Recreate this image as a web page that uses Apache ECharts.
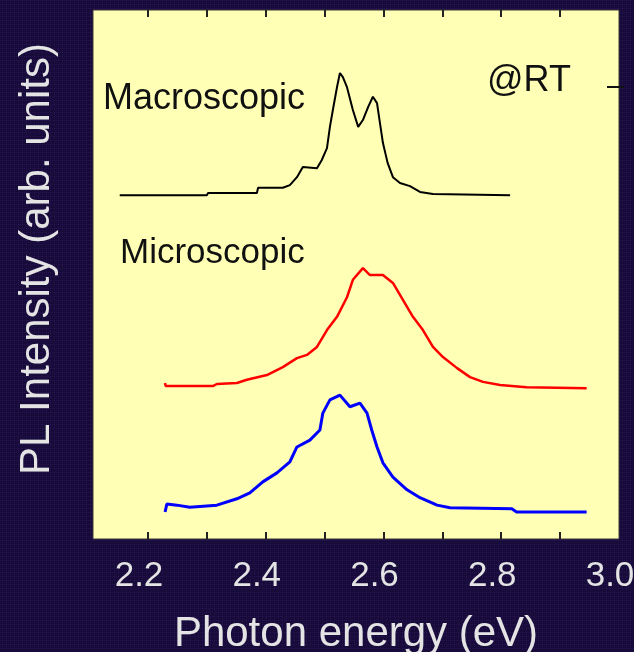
<!DOCTYPE html>
<html>
<head>
<meta charset="utf-8">
<script src="https://cdn.jsdelivr.net/npm/echarts@6/dist/echarts.min.js"></script>
<style>
  html, body { margin: 0; padding: 0; background: #170b3a; }
  #pl_show { width: 634px; height: 652px; }
</style>
</head>
<body>
<div id="pl_show"></div>
<script>
// 横轴刻度 (eV)
var tickValues = [2.2, 2.3, 2.4, 2.5, 2.6, 2.7, 2.8, 2.9];
var labelValues = [2.2, 2.4, 2.6, 2.8, 3.0];

// Macroscopic 黑线
var macroE = [2.152, 2.300, 2.302, 2.385, 2.387, 2.429, 2.441, 2.453, 2.463, 2.487, 2.495, 2.504, 2.509, 2.514, 2.521, 2.526,
    2.531, 2.538, 2.548, 2.557, 2.565, 2.574, 2.582, 2.589, 2.594, 2.599, 2.607, 2.616, 2.628, 2.645, 2.662, 2.684, 2.815];
var macroI = [6.50, 6.50, 6.54, 6.54, 6.64, 6.64, 6.69, 6.84, 7.03, 7.01, 7.16, 7.39, 7.79, 8.11, 8.54, 8.81,
    8.73, 8.54, 8.11, 7.79, 7.92, 8.17, 8.36, 8.24, 7.86, 7.49, 7.11, 6.84, 6.73, 6.67, 6.56, 6.52, 6.50];

// Microscopic 红线
var redE = [2.229, 2.230, 2.310, 2.317, 2.351, 2.368, 2.402, 2.429, 2.453, 2.470, 2.487, 2.504, 2.521, 2.538, 2.548, 2.565,
    2.577, 2.599, 2.616, 2.633, 2.650, 2.667, 2.684, 2.701, 2.725, 2.747, 2.769, 2.798, 2.843, 2.945];
var redI = [2.95, 2.89, 2.89, 2.93, 2.95, 3.01, 3.10, 3.25, 3.42, 3.48, 3.63, 3.95, 4.20, 4.57, 4.90, 5.12,
    4.99, 4.99, 4.84, 4.52, 4.20, 3.95, 3.63, 3.44, 3.23, 3.06, 2.97, 2.91, 2.87, 2.85];

// Microscopic 蓝线
var blueE = [2.229, 2.232, 2.249, 2.271, 2.317, 2.351, 2.373, 2.395, 2.419, 2.441, 2.453, 2.475, 2.492, 2.497, 2.509, 2.526,
    2.543, 2.560, 2.572, 2.580, 2.589, 2.599, 2.616, 2.640, 2.662, 2.691, 2.713, 2.818, 2.826, 2.945];
var blueI = [0.51, 0.66, 0.64, 0.60, 0.64, 0.76, 0.87, 1.08, 1.25, 1.46, 1.74, 1.87, 2.06, 2.38, 2.63, 2.72,
    2.50, 2.57, 2.38, 2.06, 1.74, 1.44, 1.17, 0.93, 0.78, 0.64, 0.59, 0.57, 0.51, 0.51];

function pairs(xs, ys) {
    var out = [];
    for (var i = 0; i < xs.length; i++) {
        out.push([xs[i], ys[i]]);
    }
    return out;
}

// 深蓝点状背景
var pat = document.createElement('canvas');
pat.width = 4;
pat.height = 4;
var pctx = pat.getContext('2d');
pctx.fillStyle = '#170b3a';
pctx.fillRect(0, 0, 4, 4);
pctx.fillStyle = '#22104f';
pctx.fillRect(0, 0, 1, 1);
pctx.fillRect(2, 2, 1, 1);
pctx.fillStyle = '#331456';
pctx.fillRect(2, 0, 1, 1);

var fontName = 'Liberation Sans, Arial, sans-serif';
var oChart = echarts.init(document.getElementById('pl_show'));

var opt = {
    backgroundColor: { image: pat, repeat: 'repeat' },
    animation: false,
    grid: {
        show: true,
        left: 93,
        right: 15,
        top: 10,
        bottom: 113,
        outerBoundsMode: 'none',
        containLabel: false,
        backgroundColor: '#ffffb6',
        borderColor: '#3a3a3a',
        borderWidth: 1
    },
    xAxis: [
        {
            type: 'value',
            min: 2.1066,
            max: 3.0,
            name: 'Photon energy (eV)',
            nameLocation: 'middle',
            nameGap: 74,
            nameTextStyle: { color: '#e4e4e4', fontSize: 42, fontFamily: fontName },
            axisLine: { show: false },
            splitLine: { show: false },
            axisTick: {
                show: true,
                inside: true,
                length: 7,
                customValues: tickValues,
                lineStyle: { color: '#222', width: 2 }
            },
            axisLabel: {
                customValues: labelValues,
                color: '#e4e4e4',
                fontSize: 35,
                fontFamily: fontName,
                margin: 20,
                padding: [0, 18, 0, 0],
                formatter: function (v) { return v.toFixed(1); }
            }
        },
        {
            type: 'value',
            position: 'top',
            min: 2.1066,
            max: 3.0,
            axisLine: { show: false },
            splitLine: { show: false },
            axisLabel: { show: false },
            axisTick: {
                show: true,
                inside: true,
                length: 7,
                customValues: tickValues,
                lineStyle: { color: '#222', width: 2 }
            }
        }
    ],
    yAxis: {
        type: 'value',
        min: 0,
        max: 10,
        axisLine: { show: false },
        axisTick: { show: false },
        axisLabel: { show: false },
        splitLine: { show: false }
    },
    graphic: [
        {
            type: 'text', x: 37, y: 259, rotation: Math.PI / 2,
            style: { text: 'PL Intensity (arb. units)', fill: '#e4e4e4', font: '42px ' + fontName, align: 'center', verticalAlign: 'middle' }
        },
        {
            type: 'text', x: 103, y: 99,
            style: { text: 'Macroscopic', fill: '#111', font: '36px ' + fontName, verticalAlign: 'middle' }
        },
        {
            type: 'text', x: 120, y: 253,
            style: { text: 'Microscopic', fill: '#111', font: '35px ' + fontName, verticalAlign: 'middle' }
        },
        {
            type: 'text', x: 487, y: 81,
            style: { text: '@RT', fill: '#111', font: '36px ' + fontName, verticalAlign: 'middle' }
        },
        {
            type: 'line',
            shape: { x1: 607, y1: 87, x2: 624, y2: 87 },
            style: { stroke: '#111', lineWidth: 2 }
        }
    ],
    series: [
        {
            name: 'Macroscopic',
            type: 'line',
            showSymbol: false,
            lineStyle: { color: '#000', width: 2 },
            data: pairs(macroE, macroI)
        },
        {
            name: 'Microscopic red',
            type: 'line',
            showSymbol: false,
            lineStyle: { color: '#ff0000', width: 2.5 },
            data: pairs(redE, redI)
        },
        {
            name: 'Microscopic blue',
            type: 'line',
            showSymbol: false,
            lineStyle: { color: '#0000ff', width: 3 },
            data: pairs(blueE, blueI)
        }
    ]
};
oChart.setOption(opt);
</script>
</body>
</html>
